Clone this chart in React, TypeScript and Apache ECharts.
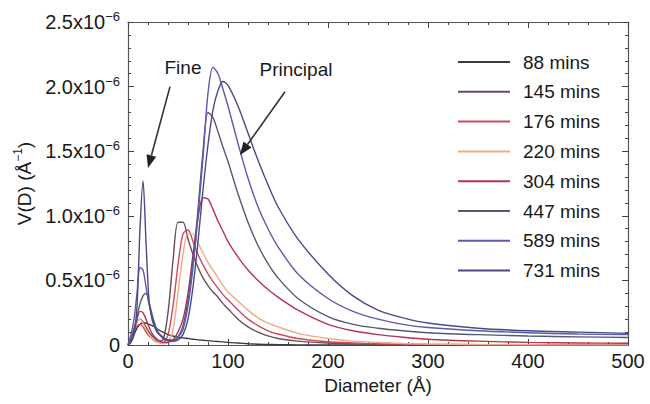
import React, { useEffect, useRef } from "react";
import * as echarts from "echarts";

// Diameter (Å) sample positions shared by all series
const diameters = [0, 3, 6, 9, 12, 15, 18, 21, 24, 27, 30, 35, 40, 45, 50, 55, 60, 65, 70, 75, 80, 85, 90, 95, 100, 110, 120, 130, 140, 150, 170, 200, 225, 250, 275, 300, 350, 400, 450, 500];

// V(D) values in units of 1e-6 Å^-1
const v88 = [0, 0.03, 0.08, 0.13, 0.16, 0.17, 0.17, 0.16, 0.15, 0.14, 0.12, 0.1, 0.08, 0.07, 0.06, 0.055, 0.05, 0.045, 0.04, 0.037, 0.034, 0.03, 0.027, 0.024, 0.02, 0.015, 0.01, 0.006, 0.004, 0.002, 0.001, 0, 0, 0, 0, 0, 0, 0, 0, 0];
const v145 = [0, 0.05, 0.12, 0.18, 0.2, 0.18, 0.14, 0.1, 0.07, 0.05, 0.03, 0.04, 0.25, 0.65, 0.95, 0.95, 0.82, 0.7, 0.6, 0.52, 0.46, 0.41, 0.37, 0.32, 0.28, 0.2, 0.14, 0.1, 0.07, 0.05, 0.03, 0.015, 0.009, 0.005, 0.003, 0.002, 0, 0, 0, 0];
const v176 = [0, 0.04, 0.1, 0.15, 0.16, 0.14, 0.1, 0.07, 0.05, 0.03, 0.02, 0.02, 0.08, 0.3, 0.62, 0.86, 0.89, 0.8, 0.7, 0.62, 0.55, 0.49, 0.44, 0.39, 0.35, 0.27, 0.2, 0.15, 0.11, 0.085, 0.05, 0.025, 0.016, 0.01, 0.007, 0.005, 0.003, 0.002, 0.001, 0.001];
const v220 = [0, 0.05, 0.12, 0.18, 0.2, 0.17, 0.12, 0.08, 0.05, 0.03, 0.02, 0.01, 0.02, 0.12, 0.4, 0.7, 0.86, 0.86, 0.79, 0.71, 0.64, 0.58, 0.52, 0.46, 0.41, 0.34, 0.27, 0.21, 0.17, 0.14, 0.09, 0.05, 0.03, 0.02, 0.012, 0.008, 0.004, 0.002, 0.001, 0.001];
const v304 = [0, 0.05, 0.12, 0.2, 0.26, 0.25, 0.2, 0.14, 0.09, 0.06, 0.04, 0.02, 0.02, 0.04, 0.1, 0.2, 0.4, 0.7, 0.98, 1.14, 1.13, 1.05, 0.96, 0.88, 0.8, 0.68, 0.58, 0.5, 0.43, 0.37, 0.27, 0.16, 0.11, 0.08, 0.06, 0.045, 0.03, 0.02, 0.016, 0.013];
const v447 = [0, 0.05, 0.12, 0.22, 0.32, 0.38, 0.4, 0.33, 0.24, 0.16, 0.1, 0.05, 0.03, 0.03, 0.06, 0.15, 0.35, 0.65, 1.05, 1.5, 1.8, 1.76, 1.65, 1.53, 1.42, 1.17, 0.95, 0.77, 0.63, 0.52, 0.36, 0.22, 0.16, 0.13, 0.11, 0.095, 0.08, 0.07, 0.063, 0.058];
const v589 = [0, 0.08, 0.2, 0.4, 0.6, 0.58, 0.45, 0.32, 0.22, 0.15, 0.1, 0.06, 0.04, 0.04, 0.06, 0.12, 0.3, 0.6, 1.0, 1.45, 1.95, 2.15, 2.1, 1.98, 1.85, 1.56, 1.29, 1.07, 0.9, 0.76, 0.55, 0.36, 0.26, 0.2, 0.16, 0.135, 0.11, 0.095, 0.085, 0.08];
const v731 = [0, 0.02, 0.08, 0.3, 0.9, 1.27, 0.8, 0.35, 0.2, 0.13, 0.09, 0.06, 0.04, 0.03, 0.04, 0.08, 0.2, 0.45, 0.8, 1.2, 1.55, 1.82, 1.97, 2.04, 2.01, 1.85, 1.64, 1.43, 1.24, 1.07, 0.82, 0.55, 0.38, 0.27, 0.21, 0.17, 0.13, 0.11, 0.1, 0.09];

const seriesNames = ["88 mins", "145 mins", "176 mins", "220 mins", "304 mins", "447 mins", "589 mins", "731 mins"];
const seriesValues = [v88, v145, v176, v220, v304, v447, v589, v731];
const seriesColors = ["#3a3a3a", "#6a4e55", "#cf4a5e", "#e9ae86", "#b8305a", "#545a70", "#5a5ab0", "#4a4a86"];

// Annotations in data coordinates
const fineLabel = { text: "Fine", at: [55, 2.15], from: [42, 2.0], to: [20, 1.37] };
const principalLabel = { text: "Principal", at: [168, 2.13], from: [157, 1.96], to: [112, 1.47] };

const FONT = "'Liberation Sans', Arial, sans-serif";

export default function App() {
  const ref = useRef<HTMLDivElement>(null);
  useEffect(() => {
    if (!ref.current) return;
    const chart = echarts.init(ref.current, undefined, { renderer: "svg" });
    const axisCommon = {
      axisLine: { show: true, onZero: false, lineStyle: { color: "#555", width: 1.2 } },
      axisTick: { show: true, inside: true, length: 6, lineStyle: { color: "#444" } },
      minorTick: { show: true, splitNumber: 5, length: 3, lineStyle: { color: "#444" } },
      splitLine: { show: false },
    };
    const option: any = {
      animation: false,
      backgroundColor: "#fff",
      grid: { left: 128, right: 22, top: 22, bottom: 59, containLabel: false },
      legend: {
        orient: "vertical",
        left: 453,
        top: 47,
        itemWidth: 52,
        itemHeight: 20,
        itemGap: 9.8,
        icon: "path://M0,9 L52,9 L52,11 L0,11 Z",
        data: seriesNames,
        textStyle: { fontSize: 19, fontFamily: FONT, color: "#1a1a1a", padding: [0, 0, 0, 8], lineHeight: 20 },
      },
      xAxis: [
        {
          type: "value", min: 0, max: 500, interval: 100, position: "bottom",
          ...axisCommon,
          axisLabel: { fontSize: 20, fontFamily: FONT, color: "#1a1a1a", margin: 6 },
          name: "Diameter (Å)", nameLocation: "middle", nameGap: 31,
          nameTextStyle: { fontSize: 19, fontFamily: FONT, color: "#1a1a1a" },
        },
        {
          type: "value", min: 0, max: 500, interval: 100, position: "top",
          ...axisCommon, axisLabel: { show: false },
        },
      ],
      yAxis: [
        {
          type: "value", min: 0, max: 2.5, interval: 0.5, position: "left",
          ...axisCommon,
          axisLabel: {
            margin: 8,
            formatter: (v: number) => (v === 0 ? "{n|0}" : `{n|${v.toFixed(1)}x10}{s|−6}`),
            rich: {
              n: { fontSize: 20, fontFamily: FONT, color: "#1a1a1a", lineHeight: 24 },
              s: { fontSize: 13, fontFamily: FONT, color: "#1a1a1a", lineHeight: 14, verticalAlign: "top" },
            },
          },
          name: "{n|V(D) (Å}{s|−1}{n|)}", nameLocation: "middle", nameGap: 92, nameRotate: 90,
          nameTextStyle: {
            rich: {
              n: { fontSize: 19, fontFamily: FONT, color: "#1a1a1a", lineHeight: 24 },
              s: { fontSize: 12, fontFamily: FONT, color: "#1a1a1a", lineHeight: 13, verticalAlign: "top" },
            },
          },
        },
        {
          type: "value", min: 0, max: 2.5, interval: 0.5, position: "right",
          ...axisCommon, axisLabel: { show: false },
        },
      ],
      series: seriesNames.map((name, i) => ({
        name,
        type: "line",
        xAxisIndex: 0,
        yAxisIndex: 0,
        data: diameters.map((d, j) => [d, seriesValues[i][j]]),
        symbol: "none",
        smooth: 0.3,
        color: seriesColors[i],
        lineStyle: { width: 1.4, color: seriesColors[i] },
        z: 2 + i,
      })),
    };
    chart.setOption(option);

    const arrow = (a: any) => {
      const p0 = chart.convertToPixel({ gridIndex: 0 }, a.from) as number[];
      const p1 = chart.convertToPixel({ gridIndex: 0 }, a.to) as number[];
      const pt = chart.convertToPixel({ gridIndex: 0 }, a.at) as number[];
      const dx = p1[0] - p0[0];
      const dy = p1[1] - p0[1];
      const len = Math.sqrt(dx * dx + dy * dy);
      const ux = dx / len, uy = dy / len;
      const hl = 13, hw = 5;
      const bx = p1[0] - ux * hl, by = p1[1] - uy * hl;
      return [
        { type: "line", shape: { x1: p0[0], y1: p0[1], x2: bx, y2: by }, style: { stroke: "#333", lineWidth: 1.6 }, z: 100 },
        {
          type: "polygon",
          shape: { points: [[p1[0], p1[1]], [bx - uy * hw, by + ux * hw], [bx + uy * hw, by - ux * hw]] },
          style: { fill: "#222" }, z: 100,
        },
        {
          type: "text", x: pt[0], y: pt[1],
          style: { text: a.text, fontSize: 19, fontFamily: FONT, fill: "#1a1a1a", align: "center", verticalAlign: "middle" },
          z: 100,
        },
      ];
    };
    chart.setOption({ graphic: [...arrow(fineLabel), ...arrow(principalLabel)] });

    return () => chart.dispose();
  }, []);
  return <div ref={ref} style={{ position: "fixed", left: 0, top: 0, width: 650, height: 404 }} />;
}
